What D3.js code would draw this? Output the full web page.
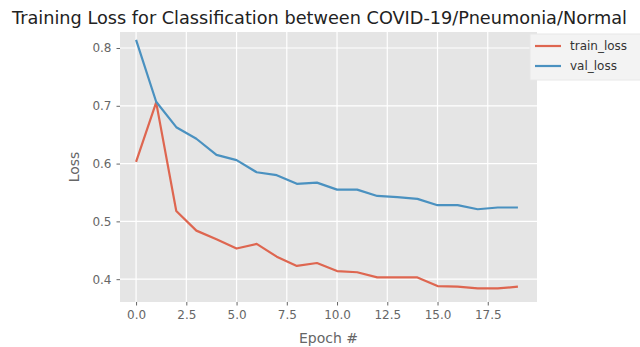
<!DOCTYPE html>
<html>
<head>
<meta charset="utf-8">
<script src="https://cdn.jsdelivr.net/npm/d3@7"></script>
<style>
  body { margin: 0; background: #fff; }
  text { font-family: "DejaVu Sans", sans-serif; }
</style>
</head>
<body>
<div id="chart"></div>
<script>
const epochs = d3.range(0, 20);
const trainLoss = [0.603, 0.706, 0.518, 0.484, 0.469, 0.453, 0.461, 0.439, 0.423, 0.428,
                   0.414, 0.412, 0.403, 0.403, 0.403, 0.388, 0.387, 0.384, 0.384, 0.387];
const valLoss = [0.814, 0.707, 0.663, 0.643, 0.615, 0.606, 0.585, 0.580, 0.565, 0.567,
                 0.555, 0.555, 0.544, 0.542, 0.539, 0.528, 0.528, 0.521, 0.524, 0.524];
const xTicks = [0, 2.5, 5, 7.5, 10, 12.5, 15, 17.5];
const yTicks = [0.4, 0.5, 0.6, 0.7, 0.8];
const seriesNames = ["train_loss", "val_loss"];

const W = 640, H = 347;
const margin = { top: 32, right: 103, bottom: 45, left: 120 },
      width = W - margin.left - margin.right,
      height = H - margin.top - margin.bottom;

const svg = d3.select("#chart").append("svg")
    .attr("width", W)
    .attr("height", H);

const g = svg.append("g")
    .attr("transform", "translate(" + margin.left + "," + margin.top + ")");

const x = d3.scaleLinear().domain([-0.8, 19.95]).range([0, width]);
const y = d3.scaleLinear().domain([0.3605, 0.8277]).range([height, 0]);

// panel
g.append("rect")
    .attr("width", width)
    .attr("height", height)
    .attr("fill", "#e5e5e5");

// grid
g.selectAll(".vgrid").data(xTicks).enter().append("line")
    .attr("x1", d => x(d)).attr("x2", d => x(d))
    .attr("y1", 0).attr("y2", height)
    .attr("stroke", "#fff").attr("stroke-width", 1.2);
g.selectAll(".hgrid").data(yTicks).enter().append("line")
    .attr("y1", d => y(d)).attr("y2", d => y(d))
    .attr("x1", 0).attr("x2", width)
    .attr("stroke", "#fff").attr("stroke-width", 1.2);

// axes
const xAxis = g.append("g")
    .attr("transform", "translate(0," + height + ")")
    .call(d3.axisBottom(x).tickValues(xTicks).tickFormat(d3.format(".1f")).tickSizeInner(3.5).tickSizeOuter(0).tickPadding(5));
const yAxis = g.append("g")
    .call(d3.axisLeft(y).tickValues(yTicks).tickFormat(d3.format(".1f")).tickSizeInner(3.5).tickSizeOuter(0).tickPadding(5));
[xAxis, yAxis].forEach(a => {
    a.select(".domain").remove();
    a.selectAll(".tick line").attr("stroke", "#666");
    a.selectAll(".tick text")
        .attr("fill", "#666")
        .style("font-size", "12px")
        .style("font-family", "DejaVu Sans, sans-serif");
});

// lines
const line = d3.line().x((d, i) => x(epochs[i])).y(d => y(d));
const colors = ["#de6650", "#4a91c0"];
[trainLoss, valLoss].forEach((s, k) => {
    g.append("path")
        .datum(s)
        .attr("fill", "none")
        .attr("stroke", colors[k])
        .attr("stroke-width", 2.2)
        .attr("stroke-linejoin", "round")
        .attr("d", line);
});

// title and labels
svg.append("text")
    .attr("x", 12)
    .attr("y", 24)
    .attr("fill", "#222")
    .style("font-size", "17.7px")
    .text("Training Loss for Classification between COVID-19/Pneumonia/Normal");

svg.append("text")
    .attr("x", margin.left + width / 2)
    .attr("y", 343)
    .attr("text-anchor", "middle")
    .attr("fill", "#666")
    .style("font-size", "14px")
    .text("Epoch #");

svg.append("text")
    .attr("transform", "translate(79," + (margin.top + height / 2) + ") rotate(-90)")
    .attr("text-anchor", "middle")
    .attr("fill", "#666")
    .style("font-size", "14px")
    .text("Loss");

// legend
const legend = svg.append("g").attr("transform", "translate(530,34)");
legend.append("rect")
    .attr("width", 120).attr("height", 46)
    .attr("fill", "#f3f3f3")
    .attr("stroke", "#e8e8e8");
seriesNames.forEach((name, k) => {
    const ly = 12 + k * 20;
    legend.append("line")
        .attr("x1", 5).attr("x2", 31)
        .attr("y1", ly).attr("y2", ly)
        .attr("stroke", colors[k]).attr("stroke-width", 2.2);
    legend.append("text")
        .attr("x", 40).attr("y", ly + 4)
        .attr("fill", "#333")
        .style("font-size", "12px")
        .text(name);
});
</script>
</body>
</html>
